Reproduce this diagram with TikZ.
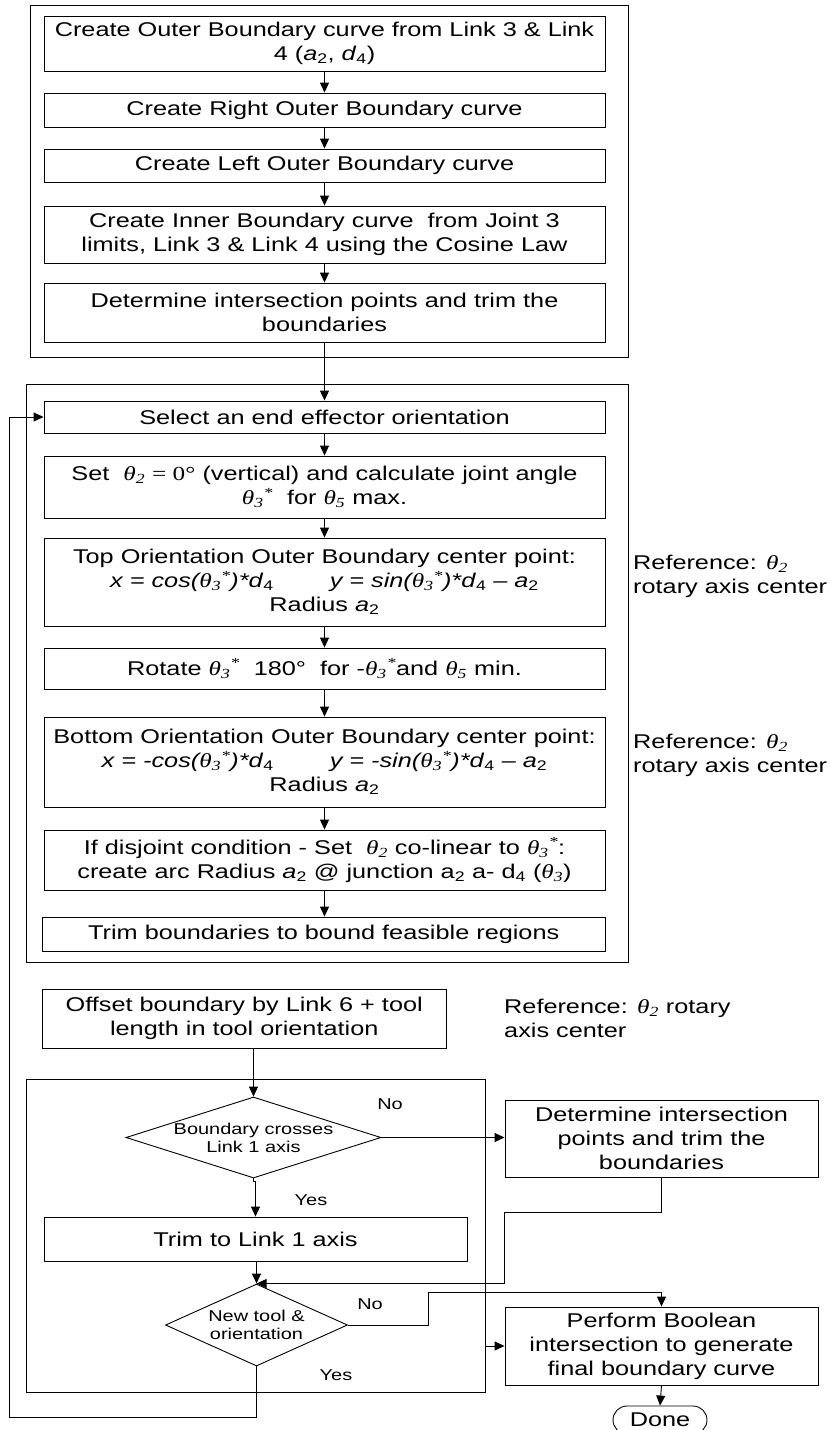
\documentclass[tikz,border=0pt]{standalone}
\usepackage{fontspec}
\setmainfont[FakeStretch=1.27]{Liberation Sans}
\newfontfamily\tms[FakeStretch=1.27]{Liberation Serif}
\usetikzlibrary{arrows.meta,shapes.geometric,calc}

% Greek joint angles in Times italic
\newcommand\thi[1]{{\tms\itshape θ\textsubscript{#1}}}
\newcommand\ths[1]{{\tms\itshape θ\textsubscript{#1}\textsuperscript{*}}}
\newcommand\mainfs{\fontsize{19.9}{24}\selectfont}
\newcommand\smallfs{\fontsize{15.7}{18}\selectfont}
\newcommand\eqs{\ =\ }

\tikzset{
  stepbox/.style={draw, line width=0.9pt, rectangle, align=center, inner sep=0pt, font=\mainfs},
  framebox/.style={draw, line width=0.9pt, rectangle, inner sep=0pt},
  decision/.style={draw, line width=0.9pt, diamond, inner sep=0pt},
  lbl/.style={inner sep=0pt, font=\smallfs},
  note/.style={inner sep=0pt, align=left, anchor=west, font=\mainfs},
  arr/.style={line width=0.9pt, -{Triangle[length=10pt,width=9pt]}},
}

\begin{document}
\begin{tikzpicture}[x=1pt,y=-1pt]
\useasboundingbox (0,0) rectangle (830,1430);

% enclosing frames
\node[framebox, minimum width=598pt, minimum height=352pt] (f1) at (329,181) {};
\node[framebox, minimum width=601.4pt, minimum height=578pt] (f2) at (327.3,673) {};
\node[framebox, minimum width=458.4pt, minimum height=313pt] (f3) at (255.8,1235.5) {};

% first block: workspace boundary curves
\node[stepbox, minimum width=561pt, minimum height=55pt] (a) at (324.5,43.5)
  {Create Outer Boundary curve from Link 3 \& Link\\4 (\textit{a}\textsubscript{2}, \textit{d}\textsubscript{4})};
\node[stepbox, minimum width=561pt, minimum height=34pt] (b) at (324.5,110)
  {Create Right Outer Boundary curve};
\node[stepbox, minimum width=561pt, minimum height=33pt] (c) at (324.5,165.5)
  {Create Left Outer Boundary curve};
\node[stepbox, minimum width=561pt, minimum height=57pt] (d) at (324.5,234.5)
  {Create Inner Boundary curve\ \ from Joint 3\\limits, Link 3 \& Link 4 using the Cosine Law};
\node[stepbox, minimum width=561pt, minimum height=59pt] (e) at (324.5,312.5)
  {Determine intersection points and trim the\\boundaries};

% second block: orientation boundaries
\node[stepbox, minimum width=561pt, minimum height=32pt] (sel) at (324.5,417)
  {Select an end effector orientation};
\node[stepbox, minimum width=561pt, minimum height=62pt] (set) at (324.5,487)
  {Set\ \ \thi{2} {\tms = 0°} (vertical) and calculate joint angle\\\ths{3}\ \ for \thi{5} max.};
\node[stepbox, minimum width=561pt, minimum height=88pt] (top) at (324.5,582)
  {Top Orientation Outer Boundary center point:\\
   \textit{x\eqs cos(\ths{3})*d}\textsubscript{4}\hspace{56pt}\textit{y\eqs sin(\ths{3})*d}\textsubscript{4}\textit{ – a}\textsubscript{2}\\
   Radius \textit{a}\textsubscript{2}};
\node[stepbox, minimum width=561pt, minimum height=41pt] (rot) at (324.5,668.5)
  {Rotate \ths{3}\ \ 180°\ \ for -\ths{3}and \thi{5} min.};
\node[stepbox, minimum width=561pt, minimum height=90pt] (bot) at (324.5,762)
  {Bottom Orientation Outer Boundary center point:\\
   \textit{x\eqs -cos(\ths{3})*d}\textsubscript{4}\hspace{56pt}\textit{y\eqs -sin(\ths{3})*d}\textsubscript{4}\textit{ – a}\textsubscript{2}\\
   Radius \textit{a}\textsubscript{2}};
\node[stepbox, minimum width=561pt, minimum height=60pt] (dis) at (324.5,860)
  {If disjoint condition - Set\ \ \thi{2} co-linear to \ths{3}:\\
   create arc Radius \textit{a}\textsubscript{2} @ junction a\textsubscript{2} a- d\textsubscript{4} (\thi{3})};
\node[stepbox, minimum width=562.5pt, minimum height=34pt] (trf) at (323.75,934)
  {Trim boundaries to bound feasible regions};

\node[note] (ref1) at (633,576) {Reference: \thi{2}\\rotary axis center};
\node[note] (ref2) at (633,755.5) {Reference: \thi{2}\\rotary axis center};

% third block: tool offset and trimming
\node[stepbox, minimum width=403.5pt, minimum height=59pt] (off) at (244.25,1018.5)
  {Offset boundary by Link 6 + tool\\length in tool orientation};
\node[note] (ref3) at (504,1018.5) {Reference: \thi{2} rotary\\axis center};

\node[decision, minimum width=255pt, minimum height=81pt] (d1) at (253.5,1137.5) {};
\node[lbl, align=center] (d1t) at (d1.center) {Boundary crosses\\Link 1 axis};
\node[stepbox, minimum width=313pt, minimum height=77pt] (det) at (661.5,1138.5)
  {Determine intersection\\points and trim the\\boundaries};
\node[stepbox, minimum width=423pt, minimum height=44pt] (tl) at (255.5,1239)
  {Trim to Link 1 axis};
\node[decision, minimum width=182pt, minimum height=82pt] (d2) at (256.5,1325) {};
\node[lbl, align=center] (d2t) at (d2.center) {New tool \&\\orientation};
\node[stepbox, minimum width=313pt, minimum height=78pt] (perf) at (661.5,1346)
  {Perform Boolean\\intersection to generate\\final boundary curve};
\node[draw, line width=0.9pt, rounded corners=14pt, minimum width=94pt, minimum height=28pt,
      inner sep=0pt, font=\mainfs] (done) at (660,1420) {Done};

\node[lbl] (no1) at (390,1104) {No};
\node[lbl] (yes1) at (311,1200) {Yes};
\node[lbl] (no2) at (370,1304) {No};
\node[lbl] (yes2) at (336,1375) {Yes};

% routing points
\coordinate (k1) at (504,1212);
\coordinate (j2) at (428,1292);
\coordinate (lp) at (9.6,1417);

% connectors
\draw[arr] (a) -- (b);
\draw[arr] (b) -- (c);
\draw[arr] (c) -- (d);
\draw[arr] (d) -- (e);
\draw[arr] (e) -- (sel);
\draw[arr] (sel) -- (set);
\draw[arr] (set) -- (top);
\draw[arr] (top) -- (rot);
\draw[arr] (rot) -- (bot);
\draw[arr] (bot) -- (dis);
\draw[arr] (dis.south) -- (dis.south |- trf.north);
\draw[arr] (d1.north |- off.south) -- (d1.north);
\draw[arr] (d1.east) -- (d1.east -| det.west);
\draw[arr] (d1.south) -- ++(0,3) -| (tl.north);
\draw[arr] (d2.north |- tl.south) -- (d2.north);
\draw[arr] (det.south) |- (k1) |- (d2.north);
\draw[arr] (d2.east) -| (j2) -| (perf.north);
\draw[arr] (f3.east |- perf.west) -- (perf.west);
\draw[arr] (perf.south) -- (done.north);
\draw[arr] (d2.south) |- (lp) |- (sel.west);
\end{tikzpicture}
\end{document}
